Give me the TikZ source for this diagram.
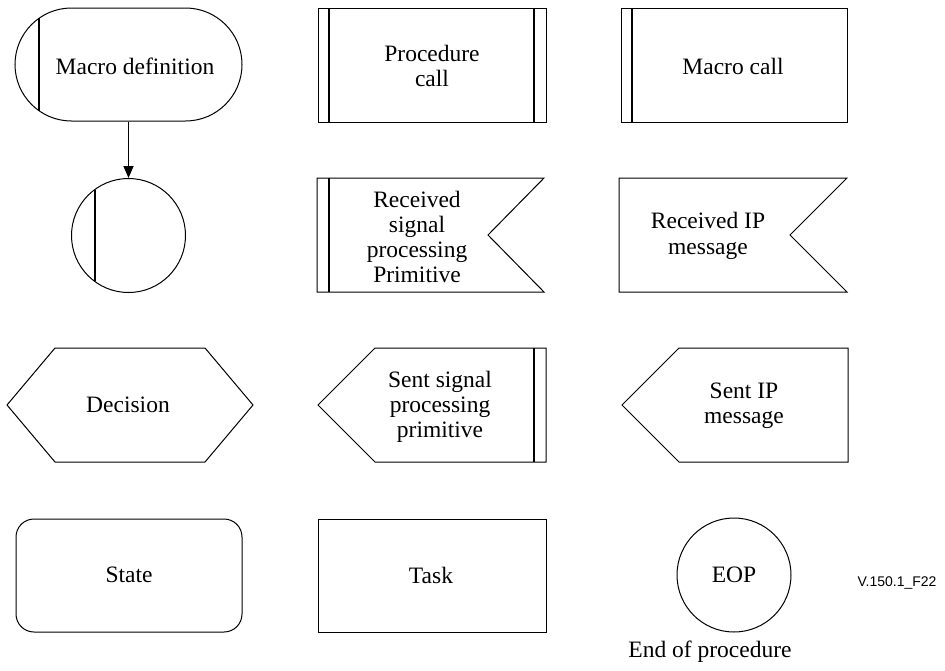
\documentclass[tikz,border=0pt]{standalone}
\usepackage{fontspec}
\setmainfont{Liberation Serif}
\newfontfamily\labelsans{Liberation Sans}
\usetikzlibrary{shapes.misc,arrows.meta}
\begin{document}
\begin{tikzpicture}[x=1pt,y=-1pt,
  outline/.style={draw,line width=1pt,line join=miter},
  bar/.style={line width=2pt},
  lbl/.style={inner sep=0pt,align=center,font=\fontsize{23.5}{25.3}\selectfont},
  flow/.style={line width=1.6pt,-{Triangle[length=12pt,width=10pt]}}]
\useasboundingbox (0,0) rectangle (945,670);

% Row 1: macro definition, procedure call, macro call
\node[outline,rounded rectangle,minimum width=227pt,minimum height=113pt,inner sep=0pt] (macdef) at (128.5,64.5) {};
\node[lbl] (macdeft) at (135,66) {Macro definition};
\draw[bar] (39,18.3) -- (39,110.7);

\node[outline,rectangle,minimum width=228pt,minimum height=114pt,inner sep=0pt] (proc) at (432,65) {};
\node[lbl] (proct) at (432,66) {Procedure\\call};
\draw[bar] (329,8) -- (329,122);
\draw[bar] (534,8) -- (534,122);

\node[outline,rectangle,minimum width=226pt,minimum height=114pt,inner sep=0pt] (mcall) at (734,65) {};
\node[lbl] (mcallt) at (733,66) {Macro call};
\draw[bar] (632,8) -- (632,122);

% Row 2: macro connector, received primitives
\node[outline,circle,minimum size=114pt,inner sep=0pt] (conn) at (128.5,235.5) {};
\draw[bar] (95,189.8) -- (95,281.2);
\draw[flow] (macdef.south) -- (conn.north);

\draw[outline] (317,178) -- (544,178) -- (488,235) -- (544,292) -- (317,292) -- cycle;
\draw[bar] (329,178) -- (329,292);
\node[lbl] (rsig) at (417,237) {Received\\signal\\processing\\Primitive};

\draw[outline] (619,178) -- (847,178) -- (790,235) -- (847,292) -- (619,292) -- cycle;
\node[lbl] (rip) at (708,236) {Received IP\\message};

% Row 3: decision, sent primitives
\draw[outline] (7,405) -- (55,348) -- (205,348) -- (253,405) -- (205,462) -- (55,462) -- cycle;
\node[lbl] (dec) at (128,405) {Decision};

\draw[outline] (318,405) -- (375,348) -- (546,348) -- (546,462) -- (375,462) -- cycle;
\draw[bar] (534,348) -- (534,462);
\node[lbl] (ssig) at (440,407) {Sent signal\\processing\\primitive};

\draw[outline] (622,405) -- (679,348) -- (848,348) -- (848,462) -- (679,462) -- cycle;
\node[lbl] (sip) at (744,406) {Sent IP\\message};

% Row 4: state, task, end of procedure
\draw[outline,rounded corners=18pt] (16,519) rectangle (242,632);
\node[lbl] (state) at (129,575) {State};

\draw[outline] (318,519) rectangle (546,632);
\node[lbl] (task) at (431,575) {Task};

\node[outline,circle,minimum size=114pt,inner sep=0pt] (eop) at (734,575) {};
\node[lbl] (eopt) at (734,575) {EOP};
\node[lbl] (eopcap) at (710,652) {End of procedure};

\node[inner sep=0pt,font=\labelsans\fontsize{14}{16}\selectfont] (figid) at (897,583) {V.150.1\_F22};
\end{tikzpicture}
\end{document}
